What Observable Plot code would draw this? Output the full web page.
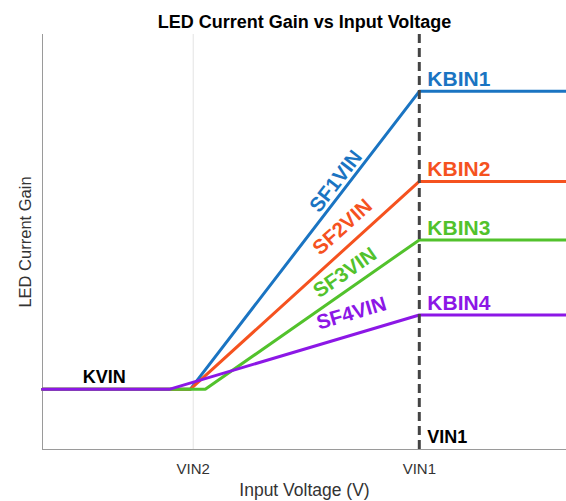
<!DOCTYPE html>
<html>
<head>
<meta charset="utf-8">
<script src="https://cdn.jsdelivr.net/npm/d3@7"></script>
<script src="https://cdn.jsdelivr.net/npm/@observablehq/plot@0.6"></script>
<style>
  html, body { margin: 0; padding: 0; background: #fff; }
  #chart svg { display: block; font-family: "Liberation Sans", Arial, sans-serif; }
</style>
</head>
<body>
<div id="chart"></div>
<script>
// ---- data ----
const titleText = "LED Current Gain vs Input Voltage";
const xLabel = "Input Voltage (V)";
const yLabel = "LED Current Gain";
const xTickLabels = ["VIN2", "VIN1"];
const xTickValues = [3, 7.5];
const xMax = 10.43;
const yMax = 10;
const kvin = 1.45;                      // flat gain at low input voltage
const seriesNames = ["KBIN1", "KBIN2", "KBIN3", "KBIN4"];
const slopeNames = ["SF1VIN", "SF2VIN", "SF3VIN", "SF4VIN"];
const rampStart = [2.94, 2.94, 3.24, 2.52]; // voltage where each series leaves KVIN
const gainEnd = [8.63, 6.46, 5.05, 3.24];   // gain reached at VIN1
const seriesColors = ["#1a74c2", "#f5521f", "#52c22c", "#8c17e6"];
// slope-label placement (data coords) and angle
const slopeLabelX = [5.84, 5.97, 6.02, 6.15];
const slopeLabelY = [6.46, 5.36, 4.26, 3.28];
const slopeAngle = [-52.4, -42.2, -34.8, -16.5];

const VIN1 = xTickValues[1], VIN2 = xTickValues[0];

// build table
const rows = [];
seriesNames.forEach((s, i) => {
  rows.push({series: s, v: 0, g: kvin});
  rows.push({series: s, v: rampStart[i], g: kvin});
  rows.push({series: s, v: VIN1, g: gainEnd[i]});
  rows.push({series: s, v: xMax, g: gainEnd[i]});
});
const endLabels = seriesNames.map((s, i) => ({series: s, v: VIN1, g: gainEnd[i]}));
const slopeLabels = slopeNames.map((s, i) => ({name: s, series: seriesNames[i], v: slopeLabelX[i], g: slopeLabelY[i], a: slopeAngle[i]}));

const colorScale = {domain: seriesNames, range: seriesColors};

const chart = Plot.plot({
  width: 566,
  height: 501,
  marginLeft: 42,
  marginRight: 0,
  marginTop: 34,
  marginBottom: 52,
  style: {fontFamily: "Liberation Sans, Arial, sans-serif", background: "#fff"},
  x: {domain: [0, xMax], axis: null},
  y: {domain: [0, yMax], axis: null},
  color: colorScale,
  marks: [
    // light grid at VIN2
    Plot.ruleX([VIN2], {stroke: "#e3e3e3", strokeWidth: 1}),
    // axes lines
    Plot.ruleY([0], {stroke: "#9a9a9a", strokeWidth: 1}),
    Plot.ruleX([0], {stroke: "#9a9a9a", strokeWidth: 1}),
    Plot.axisX({
      ticks: xTickValues,
      tickFormat: d => xTickLabels[xTickValues.indexOf(d)],
      tickSize: 0,
      tickPadding: 14,
      fontSize: 15,
      color: "#333",
      label: null
    }),
    // x label
    Plot.text([xLabel], {frameAnchor: "bottom", dy: 46, lineAnchor: "bottom", textAnchor: "middle", fontSize: 17.5, fill: "#333", text: d => d}),
    // y label
    Plot.text([yLabel], {frameAnchor: "left", dx: -17, rotate: -90, textAnchor: "middle", fontSize: 16.5, fill: "#333", text: d => d}),
    // title
    Plot.text([titleText], {frameAnchor: "top", dy: -7, lineAnchor: "bottom", textAnchor: "middle", fontSize: 18, fontWeight: "bold", fill: "#000", text: d => d}),
    // series lines
    Plot.line(rows, {x: "v", y: "g", z: "series", stroke: "series", strokeWidth: 3, strokeLinejoin: "miter"}),
    // VIN1 dashed line
    Plot.ruleX([VIN1], {stroke: "#444", strokeWidth: 3, strokeDasharray: "9,5"}),
    // end labels
    Plot.text(endLabels, {x: "v", y: "g", text: "series", fill: "series", dx: 8, dy: -5, textAnchor: "start", lineAnchor: "bottom", fontSize: 21, fontWeight: "bold"}),
    // slope labels
    Plot.text(slopeLabels, {x: "v", y: "g", text: "name", fill: "series", rotate: "a", fontSize: 20.5, fontWeight: "bold"}),
    // KVIN label
    Plot.text(["KVIN"], {x: 0.8, y: kvin, dy: -6, textAnchor: "start", lineAnchor: "bottom", fontSize: 18, fontWeight: "bold", fill: "#000", text: d => d}),
    // VIN1 label
    Plot.text(["VIN1"], {x: VIN1, frameAnchor: "bottom", dx: 8, dy: -7, textAnchor: "start", lineAnchor: "bottom", fontSize: 18, fontWeight: "bold", fill: "#000", text: d => d})
  ]
});
document.getElementById("chart").appendChild(chart);
</script>
</body>
</html>
